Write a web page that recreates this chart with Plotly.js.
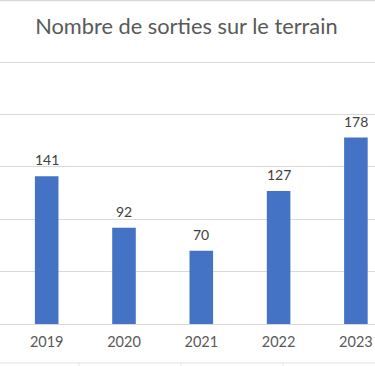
<!DOCTYPE html>
<html>
<head>
<meta charset="utf-8">
<script src="https://cdn.plot.ly/plotly-3.0.1.min.js"></script>
<style>html,body{margin:0;padding:0;background:#fff;}#chart{width:375px;height:366px;}</style>
</head>
<body>
<div id="chart"></div>
<script>
var years = ["2019", "2020", "2021", "2022", "2023"];
var sorties = [141, 92, 70, 127, 178];
var chartTitle = "Nombre de sorties sur le terrain";

var xIdx = years.map(function (_, i) { return i; });

var trace = {
  type: "bar",
  x: xIdx,
  y: sorties,
  width: 0.305,
  marker: { color: "#4472C4" },
  hoverinfo: "x+y"
};

var annotations = sorties.map(function (v, i) {
  return {
    x: i, y: v, xref: "x", yref: "y",
    text: String(v), showarrow: false,
    yanchor: "bottom", yshift: 6,
    font: { family: "Lato, 'Open Sans', sans-serif", size: 14, color: "#404040" }
  };
});

var layout = {
  width: 375, height: 366,
  margin: { l: 0, r: 0, t: 57, b: 42, pad: 0 },
  paper_bgcolor: "#ffffff",
  plot_bgcolor: "#ffffff",
  showlegend: false,
  title: {
    text: chartTitle,
    x: 0.497, xanchor: "center",
    y: 0.928, yanchor: "middle",
    font: { family: "Lato, 'Open Sans', sans-serif", size: 21.8, color: "#595959" }
  },
  xaxis: {
    range: [-0.604, 4.247],
    tickvals: xIdx,
    ticktext: years,
    showgrid: false,
    zeroline: false,
    showline: false,
    ticks: "",
    ticklabelstandoff: 7,
    tickfont: { family: "Lato, 'Open Sans', sans-serif", size: 14.5, color: "#595959" }
  },
  yaxis: {
    range: [0, 255],
    dtick: 50,
    tick0: 0,
    showgrid: true,
    gridcolor: "#d9d9d9",
    gridwidth: 1,
    zeroline: true,
    zerolinecolor: "#d9d9d9",
    zerolinewidth: 1,
    showticklabels: false,
    ticks: ""
  },
  annotations: annotations,
  shapes: [
    { type: "line", xref: "paper", yref: "paper", x0: 0, x1: 1, y0: 1.2116, y1: 1.2116, line: { color: "#d9d9d9", width: 1.5 } },
    { type: "line", xref: "paper", yref: "paper", x0: 0, x1: 1, y0: -0.146, y1: -0.146, line: { color: "#e3e3e3", width: 1 } },
    { type: "line", xref: "paper", yref: "paper", x0: 0.2107, x1: 0.2107, y0: -0.146, y1: -0.16, line: { color: "#e3e3e3", width: 1 } },
    { type: "line", xref: "paper", yref: "paper", x0: 0.4827, x1: 0.4827, y0: -0.146, y1: -0.16, line: { color: "#e3e3e3", width: 1 } },
    { type: "line", xref: "paper", yref: "paper", x0: 0.7547, x1: 0.7547, y0: -0.146, y1: -0.16, line: { color: "#e3e3e3", width: 1 } }
  ]
};

Plotly.newPlot("chart", [trace], layout, { displayModeBar: false, staticPlot: true });
</script>
</body>
</html>
